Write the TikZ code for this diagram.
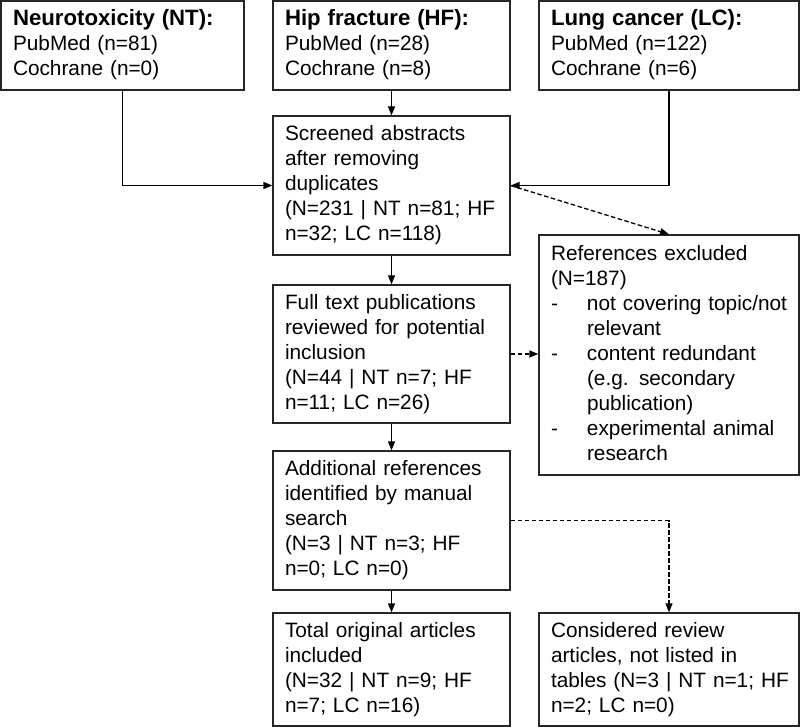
\documentclass[tikz,border=0pt]{standalone}
\usepackage{fontspec}
\setmainfont{Liberation Sans}
\usetikzlibrary{arrows.meta,calc}
\newcommand\lines[1]{\begin{tabular}{@{}l@{}}#1\end{tabular}}
\newcommand\headtext[1]{{\fontsize{22.2}{25}\selectfont\bfseries #1}}
\begin{document}
\begin{tikzpicture}[x=1pt,y=-1pt,
  box/.style={draw=black!85, line width=1.3pt, inner xsep=12pt, inner ysep=0pt,
    align=left, font=\fontsize{20.8}{25}\selectfont, anchor=center},
  narrow/.style={box, minimum width=237pt, text width=213pt},
  wide/.style={box, minimum width=260pt, text width=236pt},
  conn/.style={line width=1.3pt, draw=black, -{Triangle[length=9pt,width=7pt]}},
  dconn/.style={conn, dash pattern=on 4.5pt off 2.5pt}]
\useasboundingbox (0,0) rectangle (800,727);
\node[box, minimum width=243pt, text width=219pt, minimum height=89pt] (nt) at (122.5,45.5)
  {\lines{\headtext{Neurotoxicity (NT):}\\PubMed (n=81)\\Cochrane (n=0)}};
\node[narrow, minimum height=89pt] (hf) at (391.5,45.5)
  {\lines{\headtext{Hip fracture (HF):}\\PubMed (n=28)\\Cochrane (n=8)}};
\node[wide, minimum height=89pt] (lc) at (669,45.5)
  {\lines{\headtext{Lung cancer (LC):}\\PubMed (n=122)\\Cochrane (n=6)}};
\node[narrow, minimum height=139pt] (scr) at (391.5,185.5)
  {\lines{Screened abstracts\\after removing\\duplicates\\(N=231 | NT n=81; HF\\n=32; LC n=118)}};
\node[wide, minimum height=240pt] (exc) at (669,355)
  {\begin{tabular}{@{}p{36pt}@{}l@{}}
   \multicolumn{2}{@{}l@{}}{References excluded}\\
   \multicolumn{2}{@{}l@{}}{(N=187)}\\
   - & not covering topic/not\\
     & relevant\\
   - & content redundant\\
     & (e.g. secondary\\
     & publication)\\
   - & experimental animal\\
     & research
   \end{tabular}};
\node[narrow, minimum height=138pt] (full) at (391.5,354)
  {\lines{Full text publications\\reviewed for potential\\inclusion\\(N=44 | NT n=7; HF\\n=11; LC n=26)}};
\node[narrow, minimum height=139pt] (add) at (391.5,520.5)
  {\lines{Additional references\\identified by manual\\search\\(N=3 | NT n=3; HF\\n=0; LC n=0)}};
\node[narrow, minimum height=113pt] (tot) at (391.5,669.5)
  {\lines{Total original articles\\included\\(N=32 | NT n=9; HF\\n=7; LC n=16)}};
\node[wide, minimum height=113pt] (rev) at (669,669.5)
  {\lines{Considered review\\articles, not listed in\\tables (N=3 | NT n=1; HF\\n=2; LC n=0)}};
% connectors
\draw[conn] (nt.south) |- (scr.west);
\draw[conn] (hf.south) -- (scr.north);
\draw[conn] (lc.south) |- (scr.east);
\draw[dconn] (scr.east) -- (exc.north);
\draw[conn] (scr.south) -- (full.north);
\draw[dconn] (full.east) -- (full.east -| exc.west);
\draw[conn] (full.south) -- (add.north);
\draw[dconn] (add.east) -| (rev.north);
\draw[conn] (add.south) -- (tot.north);
\end{tikzpicture}
\end{document}
